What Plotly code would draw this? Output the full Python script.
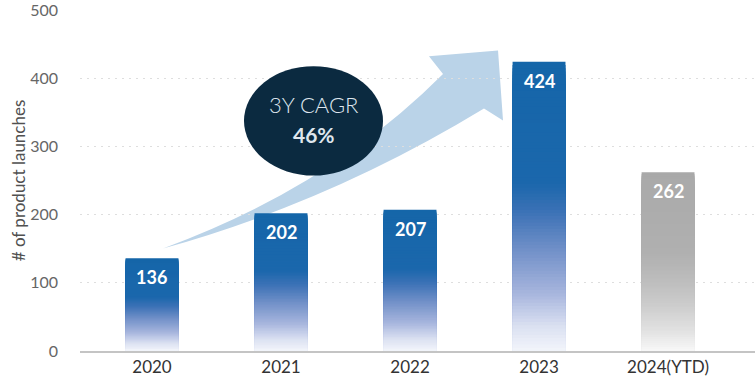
import plotly.graph_objects as go

# ---- data ----
categories = ["2020", "2021", "2022", "2023", "2024(YTD)"]
launches = [136, 202, 207, 424, 262]
bar_palette = ["blue", "blue", "blue", "blue", "grey"]
y_ticks = [0, 100, 200, 300, 400, 500]
cagr_title = "3Y CAGR"
cagr_value = "46%"
y_title = "# of product launches"

# ---- styling ----
FONT = "Lato"
gradients = {
    "blue": [(0.00, "#f3f5fb"), (0.08, "#dce2f2"), (0.20, "#a7b5dd"),
             (0.35, "#7190c8"), (0.48, "#3c72b6"), (0.58, "#1b67ac"),
             (1.00, "#1566a9")],
    "grey": [(0.00, "#f8f8f8"), (0.10, "#e4e4e4"), (0.25, "#cdcdcd"),
             (0.40, "#bcbcbc"), (0.55, "#b0b0b0"), (1.00, "#a9a9a9")],
}


def hex2rgb(h):
    h = h.lstrip("#")
    return tuple(int(h[i:i + 2], 16) for i in (0, 2, 4))


def interp(stops, f):
    for (f0, c0), (f1, c1) in zip(stops[:-1], stops[1:]):
        if f0 <= f <= f1:
            t = (f - f0) / (f1 - f0) if f1 > f0 else 0
            a, b = hex2rgb(c0), hex2rgb(c1)
            r = [round(a[i] + (b[i] - a[i]) * t) for i in range(3)]
            return "rgb(%d,%d,%d)" % tuple(r)
    return stops[-1][1]


# plot area geometry (pixels) used for decorative shapes
L, R, T, B = 80, 755, 5, 351


def px(xp, yp):
    return (xp - L) / (R - L), (B - yp) / (B - T)


fig = go.Figure()

N = 90
for k in range(N):
    frac_top = (N - k) / N
    fmid = (N - k - 0.5) / N
    colors = [interp(gradients[p], fmid) for p in bar_palette]
    fig.add_bar(
        x=categories,
        y=[v * frac_top for v in launches],
        marker=dict(color=colors, line_width=0),
        width=0.41,
        hoverinfo="skip",
        showlegend=False,
    )

# bar value labels (x given as category index)
for i, v in enumerate(launches):
    fig.add_annotation(
        x=i, y=v, text="<b>%d</b>" % v, showarrow=False,
        yshift=-19, yanchor="middle",
        font=dict(family=FONT, size=18, color="white"),
    )

# curved growth arrow (decoration)
pts = {
    "T": px(163, 247), "C1": px(330, 185), "N1": px(443, 70),
    "HL": px(429, 52), "TIP": px(498, 46), "HB": px(503, 117),
    "N2": px(484, 105), "C2": px(330, 200),
}
f = lambda p: "%.4f,%.4f" % pts[p]
path = ("M %s Q %s %s L %s L %s L %s L %s Q %s %s Z" %
        (f("T"), f("C1"), f("N1"), f("HL"), f("TIP"), f("HB"), f("N2"),
         f("C2"), f("T")))
fig.add_shape(type="path", path=path, xref="paper", yref="paper",
              fillcolor="#bad3e8", line_width=0, layer="below")

# CAGR ellipse
x0, y0 = px(244, 173)
x1, y1 = px(383, 62)
fig.add_shape(type="circle", xref="paper", yref="paper",
              x0=x0, y0=y0, x1=x1, y1=y1,
              fillcolor="#0b2a40", line_width=0, layer="above")
cx, cy1 = px(313.5, 101)
_, cy2 = px(313.5, 131)
fig.add_annotation(xref="paper", yref="paper", x=cx, y=cy1, text=cagr_title,
                   showarrow=False, yanchor="middle",
                   font=dict(family=FONT, size=22, color="#dfe6ee", weight=300))
fig.add_annotation(xref="paper", yref="paper", x=cx, y=cy2,
                   text="<b>%s</b>" % cagr_value,
                   showarrow=False, yanchor="middle",
                   font=dict(family=FONT, size=21, color="#dfe6ee"))

fig.update_layout(
    width=755, height=377,
    margin=dict(l=L, r=755 - R, t=T, b=377 - B),
    paper_bgcolor="white", plot_bgcolor="white",
    barmode="overlay",
    font=dict(family=FONT),
    xaxis=dict(
        type="category", range=[-0.558, 4.674],
        showgrid=False, showline=True, linecolor="#c4c4c4", linewidth=1.5,
        ticks="", tickfont=dict(family=FONT, size=17, color="#333333"),
        fixedrange=True,
    ),
    yaxis=dict(
        range=[0, 500], tickvals=y_ticks,
        showgrid=True, gridcolor="#dedede", gridwidth=1, griddash="2px,5px",
        zeroline=False, showline=False, ticks="",
        ticklabelstandoff=21, ticklabeloverflow="allow",
        tickfont=dict(family=FONT, size=16, color="#666666"),
        title=dict(text=y_title, standoff=0,
                   font=dict(family=FONT, size=17, color="#505050")),
        fixedrange=True,
    ),
)

fig.write_html("out.html")
